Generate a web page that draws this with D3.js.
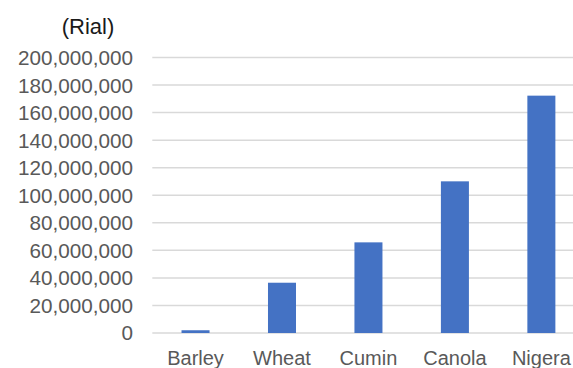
<!DOCTYPE html>
<html lang="en">
<head>
  <style>
    body { margin: 0; background: #fff; }
    .tick-label { font: 20px "Liberation Sans", Arial, sans-serif; fill: #595959; }
    .y-label { font-size: 20.7px; }
    .unit-label { font: 22px "Liberation Sans", Arial, sans-serif; fill: #1a1a1a; }
  </style>
  <script src="https://d3js.org/d3.v7.min.js"></script>
</head>
<body>
  <script>
    const crops = ["Barley", "Wheat", "Cumin", "Canola", "Nigera"];
    const values = [2000000, 36500000, 65800000, 110100000, 172300000];
    const yTicks = [0, 20000000, 40000000, 60000000, 80000000, 100000000,
      120000000, 140000000, 160000000, 180000000, 200000000];

    const width = 573, height = 368;

    const svg = d3.select("body")
      .append("svg")
      .attr("width", width)
      .attr("height", height);

    const x = d3.scaleBand()
      .domain(crops)
      .range([152.3, 584.6])
      .paddingInner(0.676)
      .paddingOuter(0.338);

    const y = d3.scaleLinear()
      .domain([0, 200000000])
      .range([333, 57.5]);

    const fmt = d3.format(",");

    // gridlines
    svg.append("g")
      .selectAll("line")
      .data(yTicks)
      .join("line")
      .attr("x1", 152.3)
      .attr("x2", width)
      .attr("y1", d => y(d))
      .attr("y2", d => y(d))
      .attr("stroke", "#d9d9d9")
      .attr("stroke-width", 1.5);

    // y tick labels
    svg.append("g")
      .selectAll("text")
      .data(yTicks)
      .join("text")
      .attr("class", "tick-label y-label")
      .attr("x", 133)
      .attr("y", d => y(d))
      .attr("dy", "0.36em")
      .attr("text-anchor", "end")
      .text(d => fmt(d));

    // bars
    svg.append("g")
      .selectAll("rect")
      .data(crops)
      .join("rect")
      .attr("x", d => x(d))
      .attr("width", x.bandwidth())
      .attr("y", (d, i) => y(values[i]))
      .attr("height", (d, i) => y(0) - y(values[i]))
      .attr("fill", "#4472c4");

    // x labels
    svg.append("g")
      .selectAll("text")
      .data(crops)
      .join("text")
      .attr("class", "tick-label")
      .attr("x", d => x(d) + x.bandwidth() / 2)
      .attr("y", 365)
      .attr("text-anchor", "middle")
      .text(d => d);

    svg.append("text")
      .attr("class", "unit-label")
      .attr("x", 88)
      .attr("y", 34)
      .attr("text-anchor", "middle")
      .text("(Rial)");
  </script>
</body>
</html>
